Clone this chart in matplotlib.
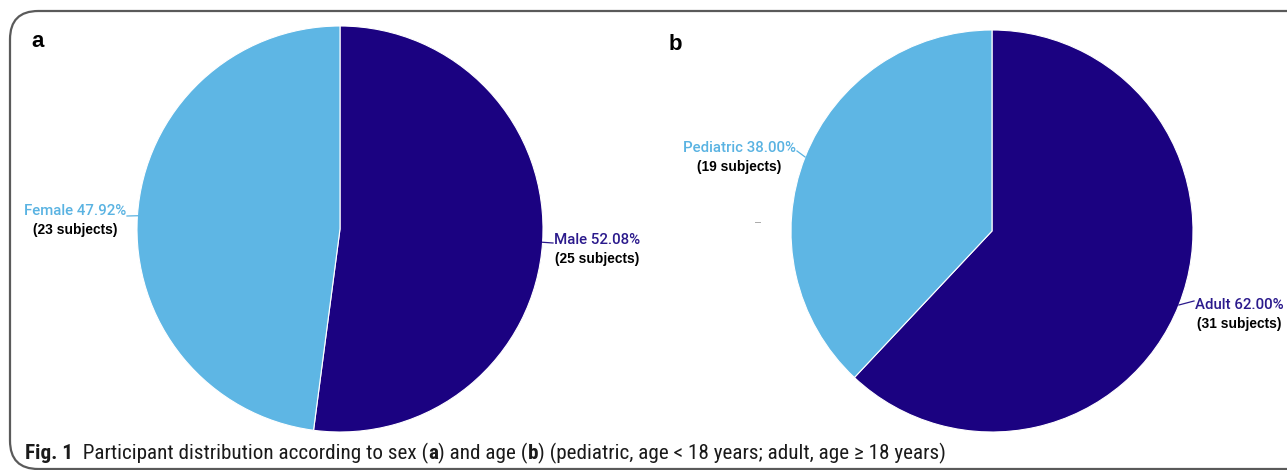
import numpy as np
import matplotlib
matplotlib.use("Agg")
import matplotlib.pyplot as plt
from matplotlib.patches import FancyBboxPatch
from matplotlib.lines import Line2D
from matplotlib import font_manager as fm

# ---- data ----
sex_labels = ["Male", "Female"]
sex_pct = [52.08, 47.92]
sex_n = [25, 23]

age_labels = ["Adult", "Pediatric"]
age_pct = [62.00, 38.00]
age_n = [31, 19]

DARK = "#1b0281"
LIGHT = "#5eb6e4"
DARK_TXT = "#2b1a8c"
LIGHT_TXT = "#5ab3e2"

W, H = 1287, 470
fig = plt.figure(figsize=(W / 100, H / 100), dpi=100)


def px(x, y):
    return (x / W, 1 - y / H)


def has_font(name):
    try:
        fm.findfont(fm.FontProperties(family=name), fallback_to_default=False)
        return True
    except Exception:
        return False


CAP_FONT = "Liberation Sans"
for cand in ["Liberation Sans Narrow", "Roboto Condensed", "DejaVu Sans Condensed",
             "Open Sans Condensed"]:
    if has_font(cand):
        CAP_FONT = cand
        break

# border (right side runs off the figure)
border = FancyBboxPatch(px(10, 469), (1340 - 10) / W, (469 - 11) / H,
                        boxstyle="round,pad=0,rounding_size=0.022",
                        transform=fig.transFigure, fill=False,
                        edgecolor="#5a5a5a", linewidth=1.6, mutation_aspect=W / H)
fig.patches.append(border)

fig.canvas.draw()
renderer = fig.canvas.get_renderer()


def pie_panel(cx, cy, r, values, labels, counts, anchors):
    l, b = px(cx - r, cy + r)
    ax = fig.add_axes([l, b, 2 * r / W, 2 * r / H])
    wedges, _ = ax.pie(values, colors=[DARK, LIGHT], startangle=90,
                       counterclock=False,
                       wedgeprops=dict(edgecolor="white", linewidth=0.8))
    ax.set_xlim(-1, 1)
    ax.set_ylim(-1, 1)
    ax.set_aspect("auto")
    ax.axis("off")
    for w, lab, v, n, (tx, ty, side, ly), col in zip(wedges, labels, values, counts,
                                                      anchors, [DARK_TXT, LIGHT_TXT]):
        mid = np.deg2rad((w.theta1 + w.theta2) / 2)
        ex, ey = cx + r * np.cos(mid), cy - r * np.sin(mid)
        ha = "right" if side == "L" else "left"
        t = fig.text(*px(tx, ty), f"{lab} {v:.2f}%", color=col, fontsize=10.8,
                     family="Roboto", weight="medium", ha=ha, va="baseline")
        lx = tx + (1 if side == "L" else -1)
        xs, ys = [ex, lx], [ey, ly]
        fig.add_artist(Line2D([x_ / W for x_ in xs], [1 - y_ / H for y_ in ys],
                              transform=fig.transFigure, color=col, lw=0.9))
        bb = t.get_window_extent(renderer)
        cxt = (bb.x0 + bb.x1) / 2 / W
        fig.text(cxt, 1 - (ty + 19) / H, f"({n} subjects)", color="black",
                 fontsize=9.9, family="Liberation Sans", weight="bold",
                 ha="center", va="baseline")


pie_panel(340, 229, 203, sex_pct, sex_labels, sex_n,
          [(554, 244, "R", 243), (126, 215, "L", 216)])
pie_panel(992, 231, 201, age_pct, age_labels, age_n,
          [(1195, 309, "R", 301), (796, 152, "L", 151)])

# panel letters
fig.text(*px(31, 47), "a", fontsize=16, weight="bold", family="Liberation Sans")
fig.text(*px(669, 50), "b", fontsize=16, weight="bold", family="Liberation Sans")

# tiny artifact mark
fig.add_artist(Line2D([755 / W, 760 / W], [1 - 222 / H] * 2,
                      transform=fig.transFigure, color="#aaaaaa", lw=0.7))

# caption with mixed weights, fitted to the reference width
pieces = [("Fig. 1", "bold"), ("  Participant distribution according to sex (", "normal"),
          ("a", "bold"), (") and age (", "normal"), ("b", "bold"),
          (") (pediatric, age < 18 years; adult, age \u2265 18 years)", "normal")]
target_w = 915.0


def draw_caption(fs, x0=25, keep=True):
    x = x0
    arts = []
    for s, wgt in pieces:
        t = fig.text(*px(x, 459), s, fontsize=fs, weight=wgt,
                     family=[CAP_FONT, "DejaVu Sans"], va="baseline",
                     color="#1a1a1a")
        x += t.get_window_extent(renderer).width
        arts.append(t)
    if not keep:
        for a in arts:
            a.remove()
    return x - x0


w0 = draw_caption(13.0, keep=False)
fs = 13.0 * target_w / w0
draw_caption(min(fs, 16.5))

fig.savefig("out.png", dpi=100)
